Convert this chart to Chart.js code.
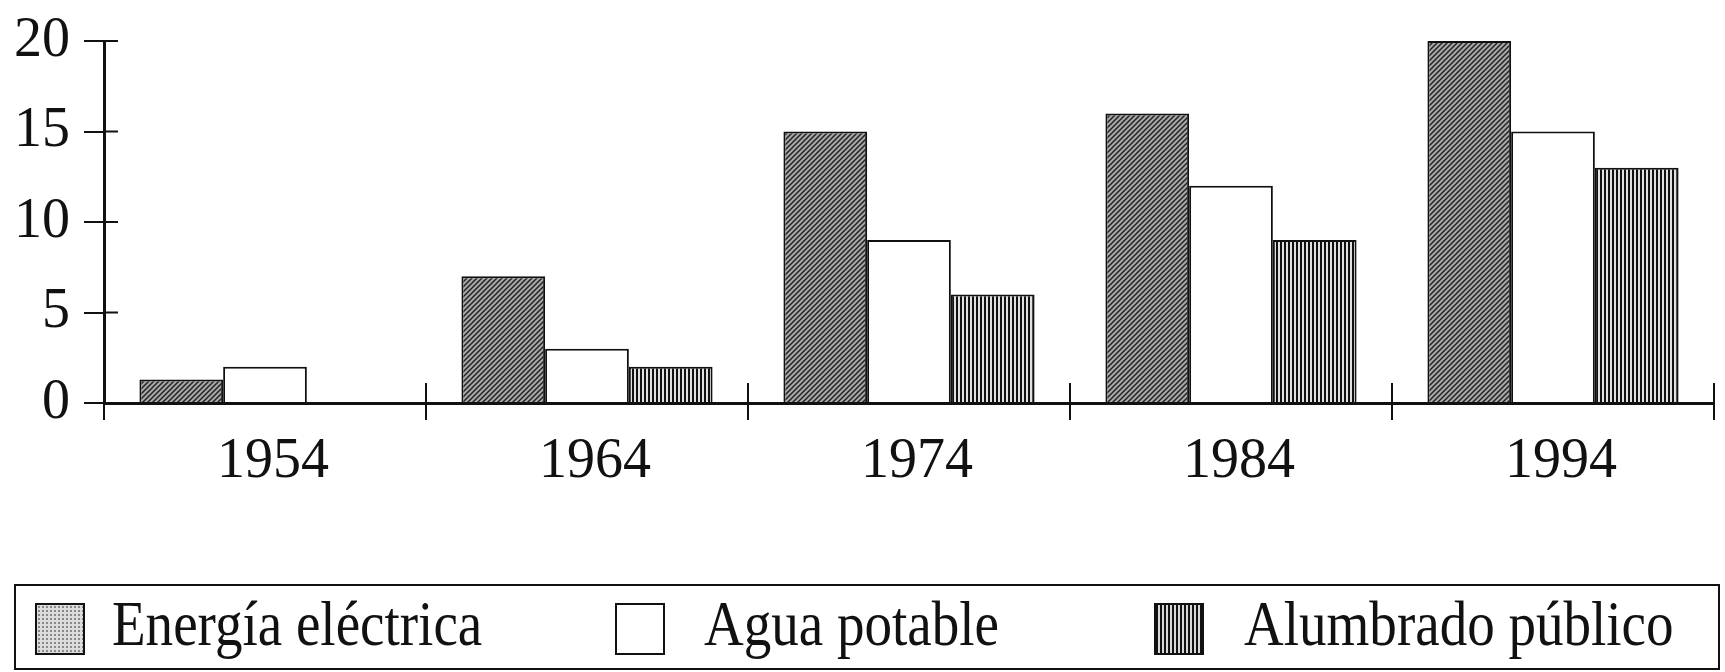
<!DOCTYPE html>
<html lang="es">
<head>
  <meta charset="UTF-8">
  <title>Servicios públicos 1954-1994</title>
  <script src="https://cdn.jsdelivr.net/npm/chart.js"></script>
  <style>
    body { margin: 0; background: #fff; }
    .wrap { position: relative; width: 1725px; height: 672px; overflow: hidden; }
    #legend {
      position: absolute; left: 14px; top: 584px; width: 1706px; height: 86px;
      box-sizing: border-box; border: 2px solid #111;
      font-family: "Liberation Serif", "Times New Roman", serif; color: #111;
    }
    .swatch { position: absolute; top: 17px; width: 50px; height: 52px; box-sizing: border-box; border: 2px solid #111; }
    .label {
      position: absolute; top: 6px; font-size: 64px; line-height: 1; white-space: nowrap;
      transform: scaleX(0.86); transform-origin: left center;
    }
  </style>
</head>
<body>
  <div class="wrap">
    <canvas id="chart" width="1725" height="672"></canvas>
    <div id="legend"></div>
  </div>

  <script>
    const years = ['1954', '1964', '1974', '1984', '1994'];
    const energia = [1.3, 7, 15, 16, 20];
    const agua = [2, 3, 9, 12, 15];
    const alumbrado = [0, 2, 6, 9, 13];
    const seriesNames = ['Energía eléctrica', 'Agua potable', 'Alumbrado público'];
    const yTicks = [0, 5, 10, 15, 20];

    const font = '"Liberation Serif", "Times New Roman", serif';

    // small tiles used as bar fills
    function diagonalTile() {
      const c = document.createElement('canvas');
      c.width = 5; c.height = 5;
      const g = c.getContext('2d');
      g.fillStyle = '#a8a8a8';
      g.fillRect(0, 0, 5, 5);
      g.strokeStyle = '#222';
      g.lineWidth = 1.5;
      g.beginPath();
      g.moveTo(0, 5); g.lineTo(5, 0);
      g.moveTo(-1, 1); g.lineTo(1, -1);
      g.moveTo(4, 6); g.lineTo(6, 4);
      g.stroke();
      return g.createPattern(c, 'repeat');
    }
    function verticalTile() {
      const c = document.createElement('canvas');
      c.width = 4; c.height = 4;
      const g = c.getContext('2d');
      g.fillStyle = '#e0e0e0';
      g.fillRect(0, 0, 4, 4);
      g.fillStyle = '#111';
      g.fillRect(0, 0, 2, 4);
      return g.createPattern(c, 'repeat');
    }

    // legend swatches (CSS versions of the fills) and where each entry sits
    const swatchCss = [
      'background:#dcdcdc radial-gradient(#888 0.8px, transparent 1.2px) 0 0/4px 4px',
      'background:#fff',
      'background:repeating-linear-gradient(90deg,#111 0 2px,#d8d8d8 2px 4px)'
    ];
    const legendSlots = [[19, 96], [599, 688], [1138, 1228]];

    // ticks that cross the axes into the plot area
    const innerTicks = {
      id: 'innerTicks',
      afterDraw(chart) {
        const { ctx, chartArea, scales } = chart;
        ctx.save();
        ctx.strokeStyle = '#111';
        ctx.lineWidth = 2;
        ctx.beginPath();
        scales.y.ticks.forEach((t, i) => {
          const y = scales.y.getPixelForTick(i);
          ctx.moveTo(chartArea.left, y);
          ctx.lineTo(chartArea.left + 14, y);
        });
        for (let i = 1; i <= years.length; i++) {
          const x = scales.x.getPixelForValue(i - 0.5);
          ctx.moveTo(x, chartArea.bottom);
          ctx.lineTo(x, chartArea.bottom - 20);
        }
        ctx.stroke();
        ctx.restore();
      }
    };

    const ctx = document.getElementById('chart').getContext('2d');
    const fills = [diagonalTile(), '#fff', verticalTile()];
    const values = [energia, agua, alumbrado];

    const chart = new Chart(ctx, {
      type: 'bar',
      data: {
        labels: years,
        datasets: seriesNames.map((name, i) => ({
          label: name,
          data: values[i],
          backgroundColor: fills[i],
          borderColor: '#111',
          borderWidth: 2,
          categoryPercentage: 0.78,
          barPercentage: 1
        }))
      },
      options: {
        responsive: false,
        animation: false,
        devicePixelRatio: 1,
        layout: { padding: { top: 41, right: 11, left: 0, bottom: 169 } },
        plugins: {
          legend: { display: false },
          tooltip: { enabled: false }
        },
        scales: {
          x: {
            offset: true,
            grid: { offset: true, drawOnChartArea: false, tickLength: 17, color: '#111', lineWidth: 2 },
            border: { display: true, color: '#111', width: 3 },
            ticks: { color: '#111', padding: 9, labelOffset: 8, font: { family: font, size: 56 } },
            afterFit(scale) { scale.height = 100; }
          },
          y: {
            min: 0,
            max: 20,
            afterBuildTicks(scale) { scale.ticks = yTicks.map(v => ({ value: v })); },
            grid: { drawOnChartArea: false, tickLength: 20, color: '#111', lineWidth: 2 },
            border: { display: true, color: '#111', width: 3 },
            ticks: { color: '#111', padding: 14, font: { family: font, size: 56 } },
            afterFit(scale) { scale.width = 104; scale.paddingTop = 0; scale.paddingBottom = 0; }
          }
        }
      },
      plugins: [innerTicks]
    });

    // HTML legend built from the chart's datasets
    const legend = document.getElementById('legend');
    chart.data.datasets.forEach((ds, i) => {
      const sw = document.createElement('span');
      sw.className = 'swatch';
      sw.style.cssText = swatchCss[i] + ';left:' + legendSlots[i][0] + 'px';
      const txt = document.createElement('span');
      txt.className = 'label';
      txt.style.left = legendSlots[i][1] + 'px';
      txt.textContent = ds.label;
      legend.appendChild(sw);
      legend.appendChild(txt);
    });
  </script>
</body>
</html>
